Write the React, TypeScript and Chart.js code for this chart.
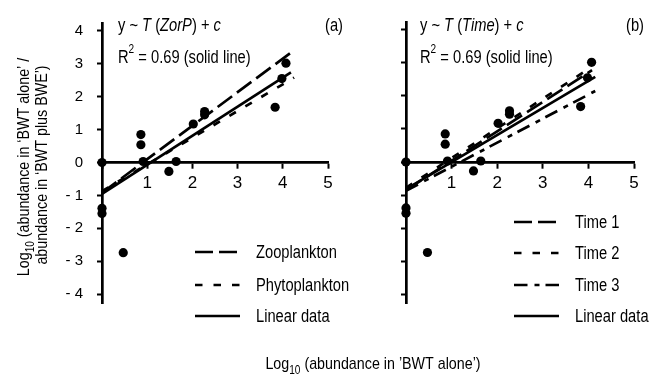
import React, { useEffect, useRef } from 'react';
import { Chart, registerables } from 'chart.js';

Chart.register(...registerables);

// ---------- data ----------
const xTickValues = [0, 1, 2, 3, 4, 5];
const yTickValues = [-4, -3, -2, -1, 0, 1, 2, 3, 4];

// observed points (same in both panels)
const obsX = [0, 0.86, 0.86, 0.91, 1.48, 1.64, 2.02, 2.27, 2.27, 3.83, 3.98, 4.07, 0, 0, 0.47];
const obsY = [0, 0.85, 0.54, 0.03, -0.27, 0.03, 1.17, 1.45, 1.55, 1.68, 2.55, 3.02, -1.39, -1.55, -2.74];

// panel (a) fitted lines: endpoints [start, end]
const linearAX = [0, 4.18];
const linearAY = [-0.95, 2.74];
const zooX = [0, 4.18];
const zooY = [-0.92, 3.34];
const phytoX = [0, 4.25];
const phytoY = [-0.87, 2.58];

// panel (b) fitted lines
const linearBX = [0, 4.15];
const linearBY = [-0.82, 2.58];
const time1X = [0, 4.08];
const time1Y = [-0.85, 2.78];
const time2X = [0, 4.05];
const time2Y = [-0.78, 2.86];
const time3X = [0, 4.15];
const time3Y = [-0.87, 2.15];

const legendA = ['Zooplankton', 'Phytoplankton', 'Linear data'];
const legendB = ['Time 1', 'Time 2', 'Time 3', 'Linear data'];

// ---------- styles ----------
const FONT = '"Liberation Sans", Arial, sans-serif';
const CONDENSE = 0.84;
const TEXT_SIZE = 17.5;
const TITLE_SIZE = 17;
const DASH_LONG = [18, 6];
const DASH_SHORT = [7.5, 11];
const DASH_DOT = [13.5, 7, 5, 6];
const SOLID: number[] = [];

type Run = { t: string; it?: boolean; sub?: boolean; sup?: boolean };

function runFont(r: Run, size: number) {
  const s = r.sub || r.sup ? Math.round(size * 0.68) : size;
  return `${r.it ? 'italic ' : ''}${s}px ${FONT}`;
}

function drawRuns(ctx: CanvasRenderingContext2D, runs: Run[], x: number, y: number, size: number, align: 'left' | 'center') {
  let total = 0;
  for (const r of runs) {
    ctx.font = runFont(r, size);
    total += ctx.measureText(r.t).width;
  }
  total *= CONDENSE;
  const startX = align === 'center' ? x - total / 2 : x;
  ctx.save();
  ctx.translate(startX, y);
  ctx.scale(CONDENSE, 1);
  ctx.textAlign = 'left';
  ctx.textBaseline = 'alphabetic';
  let cx = 0;
  for (const r of runs) {
    ctx.font = runFont(r, size);
    const dy = r.sub ? size * 0.3 : r.sup ? -size * 0.55 : 0;
    ctx.fillText(r.t, cx, dy);
    cx += ctx.measureText(r.t).width;
  }
  ctx.restore();
}

const pts = (xs: number[], ys: number[]) => xs.map((x, i) => ({ x, y: ys[i] }));

function lineDataset(xs: number[], ys: number[], dash: number[]) {
  return {
    data: pts(xs, ys),
    showLine: true,
    borderColor: '#000',
    borderWidth: 2.7,
    borderDash: dash,
    pointRadius: 0,
    fill: false,
    clip: false as any,
  };
}

type PanelSpec = {
  padLeft: number;
  padRight: number;
  yWidth: number;
  showYLabels: boolean;
  lines: any[];
  legend: { label: string; dash: number[] }[];
  legendX: number;
  legendY: number[];
  formula: Run[];
  textX: number;
  tag: string;
  tagX: number;
  axisTitles: boolean;
};

function makeChart(canvas: HTMLCanvasElement, p: PanelSpec) {
  const textPlugin = {
    id: 'texts',
    afterDraw(chart: any) {
      const ctx: CanvasRenderingContext2D = chart.ctx;
      ctx.save();
      ctx.fillStyle = '#000';
      ctx.strokeStyle = '#000';
      drawRuns(ctx, p.formula, p.textX, 31, TEXT_SIZE, 'left');
      drawRuns(ctx, [{ t: 'R' }, { t: '2', sup: true }, { t: ' = 0.69 (solid line)' }], p.textX, 63, TEXT_SIZE, 'left');
      drawRuns(ctx, [{ t: p.tag }], p.tagX, 31, TEXT_SIZE, 'left');
      p.legend.forEach((item, i) => {
        const y = p.legendY[i];
        ctx.beginPath();
        ctx.setLineDash(item.dash);
        ctx.lineWidth = 2.7;
        ctx.moveTo(p.legendX, y);
        ctx.lineTo(p.legendX + 45, y);
        ctx.stroke();
        ctx.setLineDash([]);
        drawRuns(ctx, [{ t: item.label }], p.legendX + 61, y + 6, TEXT_SIZE, 'left');
      });
      if (p.axisTitles) {
        drawRuns(ctx, [{ t: 'Log' }, { t: '10', sub: true }, { t: ' (abundance in \u2019BWT alone\u2019)' }], 373, 369, TITLE_SIZE, 'center');
        ctx.save();
        ctx.translate(29, 167);
        ctx.rotate(-Math.PI / 2);
        drawRuns(ctx, [{ t: 'Log' }, { t: '10', sub: true }, { t: ' (abundance in \u2018BWT alone\u2019 /' }], 0, 0, TITLE_SIZE, 'center');
        ctx.restore();
        ctx.save();
        ctx.translate(47, 165);
        ctx.rotate(-Math.PI / 2);
        drawRuns(ctx, [{ t: 'abundance in \u2018BWT plus BWE\u2019)' }], 0, 0, TITLE_SIZE, 'center');
        ctx.restore();
      }
      ctx.restore();
    },
  };

  return new Chart(canvas, {
    type: 'scatter',
    data: {
      datasets: [
        {
          data: pts(obsX, obsY),
          pointRadius: 4.6,
          pointBackgroundColor: '#000',
          pointBorderWidth: 0,
          showLine: false,
          clip: false as any,
        },
        ...p.lines,
      ],
    },
    options: {
      responsive: false,
      animation: false,
      devicePixelRatio: 1,
      layout: { padding: { left: p.padLeft, right: p.padRight, top: 22, bottom: 71 } },
      plugins: { legend: { display: false }, tooltip: { enabled: false }, title: { display: false } },
      scales: {
        x: {
          type: 'linear',
          min: 0,
          max: 5,
          position: { y: 0 } as any,
          afterFit: (s: any) => { s.height = 0; },
          afterBuildTicks: (s: any) => { s.ticks = xTickValues.map((v) => ({ value: v })); },
          ticks: {
            callback: (v: any) => (v === 0 ? '' : String(v)),
            color: '#000',
            font: { family: FONT, size: 17 },
            padding: 6,
            maxRotation: 0,
            autoSkip: false,
          },
          grid: { drawOnChartArea: false, drawTicks: true, tickLength: 5, tickWidth: 2, tickColor: '#000' },
          border: { display: true, color: '#000', width: 2.7 },
        },
        y: {
          type: 'linear',
          min: -4.27,
          max: 4.24,
          position: 'left',
          afterFit: (s: any) => { s.width = p.yWidth; },
          afterBuildTicks: (s: any) => { s.ticks = yTickValues.map((v) => ({ value: v })); },
          ticks: {
            display: p.showYLabels,
            callback: (v: any) => (v < 0 ? `- ${Math.abs(v)}` : String(v)),
            color: '#000',
            font: { family: FONT, size: 15 },
            padding: 14,
          },
          grid: { drawOnChartArea: false, drawTicks: true, tickLength: 5, tickWidth: 2, tickColor: '#000' },
          border: { display: true, color: '#000', width: 2.7 },
        },
      },
    },
    plugins: [textPlugin],
  } as any);
}

const specA: PanelSpec = {
  padLeft: 0,
  padRight: 649 - 328,
  yWidth: 102,
  showYLabels: true,
  lines: [
    lineDataset(zooX, zooY, DASH_LONG),
    lineDataset(phytoX, phytoY, DASH_SHORT),
    lineDataset(linearAX, linearAY, SOLID),
  ],
  legend: [
    { label: legendA[0], dash: DASH_LONG },
    { label: legendA[1], dash: DASH_SHORT },
    { label: legendA[2], dash: SOLID },
  ],
  legendX: 195,
  legendY: [252, 285, 316],
  formula: [{ t: 'y ~ ' }, { t: 'T', it: true }, { t: ' (' }, { t: 'ZorP', it: true }, { t: ') + ' }, { t: 'c', it: true }],
  textX: 118,
  tag: '(a)',
  tagX: 325,
  axisTitles: true,
};

const specB: PanelSpec = {
  padLeft: 396,
  padRight: 649 - 634,
  yWidth: 10,
  showYLabels: false,
  lines: [
    lineDataset(time1X, time1Y, DASH_LONG),
    lineDataset(time2X, time2Y, DASH_SHORT),
    lineDataset(time3X, time3Y, DASH_DOT),
    lineDataset(linearBX, linearBY, SOLID),
  ],
  legend: [
    { label: legendB[0], dash: DASH_LONG },
    { label: legendB[1], dash: DASH_SHORT },
    { label: legendB[2], dash: DASH_DOT },
    { label: legendB[3], dash: SOLID },
  ],
  legendX: 514,
  legendY: [222, 253, 285, 316],
  formula: [{ t: 'y ~ ' }, { t: 'T', it: true }, { t: ' (' }, { t: 'Time', it: true }, { t: ') + ' }, { t: 'c', it: true }],
  textX: 420,
  tag: '(b)',
  tagX: 626,
  axisTitles: false,
};

export default function App() {
  const refA = useRef<HTMLCanvasElement>(null);
  const refB = useRef<HTMLCanvasElement>(null);

  useEffect(() => {
    const a = makeChart(refA.current!, specA);
    const b = makeChart(refB.current!, specB);
    return () => {
      a.destroy();
      b.destroy();
    };
  }, []);

  const cs: React.CSSProperties = { position: 'absolute', left: 0, top: 0, width: 649, height: 374 };
  return (
    <div style={{ position: 'absolute', left: 0, top: 0, width: 649, height: 374, background: '#fff' }}>
      <canvas ref={refA} width={649} height={374} style={cs} />
      <canvas ref={refB} width={649} height={374} style={cs} />
    </div>
  );
}
